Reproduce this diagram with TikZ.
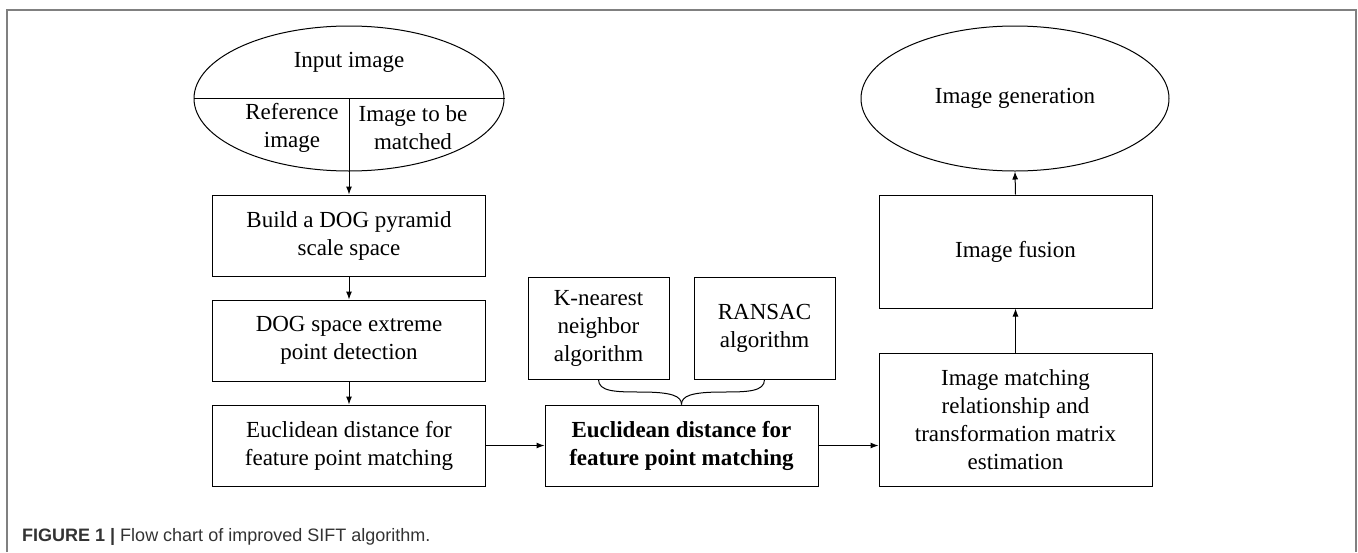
\documentclass[tikz,border=0pt]{standalone}
\usepackage{fontspec}
\setmainfont{Liberation Serif}
\newfontfamily\capfont{Liberation Sans}
\usetikzlibrary{arrows.meta,shapes.geometric,calc}

\begin{document}
\begin{tikzpicture}[x=1pt,y=-1pt,
        arrow/.style = {line width=1pt,-{Latex[length=8pt,width=6pt]}},
        stepbox/.style = {draw,line width=1pt,rectangle,align=center,inner sep=0pt,
                          font=\fontsize{23}{28}\selectfont},
        oval/.style = {draw,line width=1pt,ellipse,inner sep=0pt,
                       font=\fontsize{23}{28}\selectfont},
        txt/.style = {align=center,inner sep=0pt,font=\fontsize{23}{28}\selectfont}]
                \useasboundingbox (0,0) rectangle (1358,552);
                \draw[line width=1.5pt,black!50] (7,552) -- (7,10) -- (1356,10) -- (1356,552);

                % left column
                \node[oval,minimum width=310,minimum height=145] (inimg) at (349,98.5) {};
                \draw[line width=1pt] (inimg.west) -- (inimg.east);
                \draw[line width=1pt] (inimg.center) -- (inimg.south);
                \node[txt] (inlabel)    at (349,62)  {Input image};
                \node[txt] (reflabel)   at (292,128) {Reference\\image};
                \node[txt] (tomatch)    at (413,128) {Image to be\\matched};

                \node[stepbox,minimum width=272.5,minimum height=81] (build)   at (349,235.5) {Build a DOG pyramid\\scale space};
                \node[stepbox,minimum width=272.5,minimum height=81] (extreme) at (349,340.5) {DOG space extreme\\point detection};
                \node[stepbox,minimum width=272.5,minimum height=81] (euc)     at (349,445.5) {Euclidean distance for\\feature point matching};

                % middle
                \node[stepbox,minimum width=141,minimum height=102] (knn)    at (598.5,328) {K-nearest\\neighbor\\algorithm};
                \node[stepbox,minimum width=141,minimum height=102] (ransac) at (764.5,328) {RANSAC\\algorithm};
                \node[stepbox,minimum width=273,minimum height=81,font=\fontsize{23}{28}\selectfont\bfseries] (match) at (681.5,445.5) {Euclidean distance for\\feature point matching};

                % right column
                \node[stepbox,minimum width=273,minimum height=133] (transf) at (1015.5,419.5) {Image matching\\relationship and\\transformation matrix\\estimation};
                \node[stepbox,minimum width=273,minimum height=113] (fusion) at (1015.5,251.5) {Image fusion};
                \node[oval,minimum width=308,minimum height=145] (imggen) at (1015,98.5) {Image generation};

                % brace
                \draw[line width=1pt] (knn.south) .. controls +(0,12) and (615,392) .. (640,392)
                                      .. controls (672,392) and (681.5,396) .. (match.north);
                \draw[line width=1pt] (ransac.south) .. controls +(0,12) and (748,392) .. (723,392)
                                      .. controls (691,392) and (681.5,396) .. (match.north);

                \draw[arrow] (inimg.south) -- (build.north);
                \draw[arrow] (build.south) -- (extreme.north);
                \draw[arrow] (extreme.south) -- (euc.north);
                \draw[arrow] (euc.east) -- (match.west);
                \draw[arrow] (match.east) -- (match.east -| transf.west);
                \draw[arrow] (transf.north) -- (fusion.south);
                \draw[arrow] (fusion.north) -- (imggen.south);

                \node[anchor=west,inner sep=0pt,text=black!80,font=\capfont\fontsize{18}{22}\selectfont] (caption) at (22,537)
                      {\textbf{FIGURE 1 |} Flow chart of improved SIFT algorithm.};
\end{tikzpicture}
\end{document}
